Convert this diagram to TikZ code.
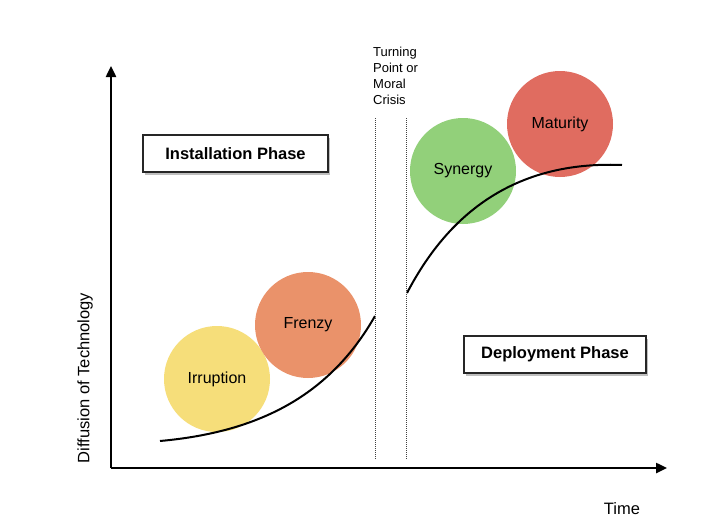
\documentclass[tikz,border=0pt]{standalone}
\usepackage{fontspec}
\setmainfont{Liberation Sans}
\usetikzlibrary{arrows.meta,shadows}
\definecolor{cirr}{RGB}{246,222,122}
\definecolor{cfre}{RGB}{234,146,106}
\definecolor{csyn}{RGB}{146,208,122}
\definecolor{cmat}{RGB}{224,108,96}
\begin{document}
\begin{tikzpicture}[x=1pt,y=-1pt,
  phase/.style={circle,minimum size=106pt,inner sep=0pt,font=\fontsize{16}{18}\selectfont},
  phasebox/.style={draw=black!85,line width=1.2pt,fill=white,inner sep=0pt,font=\bfseries\fontsize{16.5}{18}\selectfont,
    drop shadow={shadow xshift=1.5pt,shadow yshift=-2.5pt,opacity=0.5}},
  axis/.style={line width=2.4pt,-{Triangle[length=11pt,width=10pt]}},
  curve/.style={line width=2pt},
  divider/.style={densely dotted,line width=1pt,black!75},
  lbl/.style={font=\fontsize{16.5}{18}\selectfont}]
\useasboundingbox (0,0) rectangle (716,522);
\fill[white] (0,0) rectangle (716,522);
% circles
\node[phase,fill=cirr] (irr) at (217,379) {Irruption};
\node[phase,fill=cfre] (fre) at (308,325) {Frenzy};
\node[phase,fill=csyn] (syn) at (463,171) {Synergy};
\node[phase,fill=cmat] (mat) at (560,124) {Maturity};
% curves
\coordinate (c1s) at (160,441);
\coordinate (c1e) at (375,316);
\coordinate (c2s) at (407,293);
\coordinate (c2e) at (622,165);
\draw[curve] (c1s) .. controls (260,432) and (330,395) .. (c1e);
\draw[curve] (c2s) .. controls (440,230) and (500,160) .. (c2e);
% dividers
\coordinate (d1t) at (375,118); \coordinate (d1b) at (375,459);
\coordinate (d2t) at (406,118); \coordinate (d2b) at (406,459);
\draw[divider] (d1t) -- (d1b);
\draw[divider] (d2t) -- (d2b);
% axes
\coordinate (o) at (111,468);
\coordinate (ytop) at (111,66);
\coordinate (xend) at (667,468);
\draw[axis] (o) -- (ytop);
\draw[axis] (o) -- (xend);
% boxes
\node[phasebox,minimum width=185pt,minimum height=37pt] (inst) at (235.5,153.5) {Installation Phase};
\node[phasebox,minimum width=182pt,minimum height=37pt] (dep) at (555,354.5) {Deployment Phase};
% labels
\node[font=\fontsize{13}{16}\selectfont,align=left,anchor=north west,inner sep=0pt] (tp) at (373,47) {Turning\\Point or\\Moral\\Crisis};
\node[lbl,rotate=90] (ylab) at (85,378) {Diffusion of Technology};
\node[lbl] (time) at (622,509) {Time};
\end{tikzpicture}
\end{document}
